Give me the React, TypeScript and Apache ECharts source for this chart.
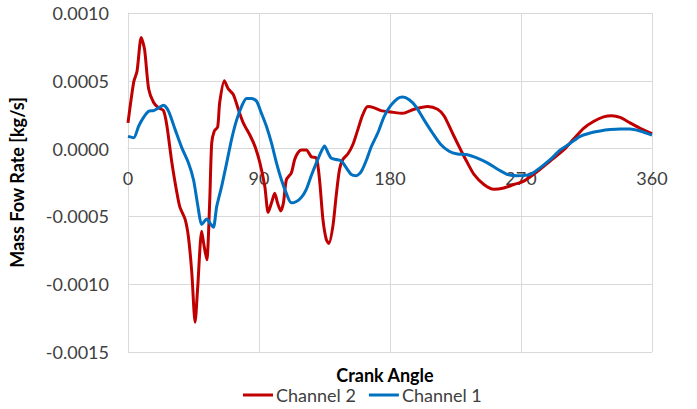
import React, { useEffect, useRef } from "react";
import * as echarts from "echarts";

// Channel 2 (red) – crank angle [deg] and mass flow rate [kg/s]
const ch2Angle = [
  0, 3.9, 6.2, 9.1, 11.4, 14.2, 17.6, 21, 24.4, 26.7, 30.1, 33.5, 35.6, 39.2, 41.5, 43.8, 46.1,
  47.9, 50.6, 52, 54.1, 56.1, 57.5, 59.3, 61.6, 63, 66.2, 68.9, 72.3, 75.8, 79.2, 83.7, 87.1,
  90.5, 94, 96.3, 98.6, 100.8, 102.7, 104.9, 106.8, 108.8, 112.2, 114.5, 116.8, 119.1, 122.5,
  125.9, 129.4, 131.6, 133.9, 136.2, 138, 140.8, 143, 145.3, 147.6, 151, 154.5, 157.9, 161.3,
  164.7, 169.3, 173.8, 180.7, 188.7, 196.6, 205.8, 212.7, 217.2, 222.9, 228.6, 233.2, 237.7,
  244.5, 251.4, 258.2, 265.1, 271.9, 281.1, 290.2, 299.3, 306.1, 313, 319.8, 326.7, 332.4,
  338.1, 344.9, 351.8, 360,
];
const ch2Flow = [
  0.00019, 0.00049, 0.00057, 0.00082, 0.00073, 0.00044, 0.00034, 0.0003, 0.00028, 0.00017,
  -0.0001, -0.00032, -0.00043, -0.00052, -0.00065, -0.00091, -0.00128, -0.00102, -0.00061,
  -0.0007, -0.00082, -0.0004, 0.00004, 0.00013, 0.00016, 0.00034, 0.0005, 0.00044, 0.0004,
  0.00029, 0.00019, 0.0001, 0.00002, -0.0001, -0.00028, -0.00047, -0.0004, -0.00033, -0.0004,
  -0.00046, -0.0004, -0.00023, -0.00018, -0.00008, -0.00003, -0.00001, -0.00001, -0.00006,
  -0.00007, -0.00023, -0.00052, -0.00067, -0.0007, -0.00057, -0.00035, -0.000155, -0.00008,
  -0.00004, 0.00003, 0.00014, 0.00025, 0.00031, 0.0003, 0.00028, 0.00027, 0.00026, 0.00029,
  0.00031, 0.00029, 0.00024, 0.000115, -0.00001, -0.000105, -0.00019, -0.000265, -0.0003,
  -0.00029, -0.000265, -0.00024, -0.00017, -0.00009, -0.00001, 0.00007, 0.00015, 0.0002,
  0.000234, 0.000243, 0.00023, 0.00019, 0.00015, 0.00011,
];

// Channel 1 (blue)
const ch1Angle = [
  0, 3.9, 7.3, 10.7, 14.2, 17.6, 21, 24.4, 27.9, 32.4, 37, 41.5, 45, 48.4, 50.6, 54.1, 57,
  58.7, 60.9, 64.3, 67.8, 71.2, 74.6, 78, 81.4, 84.9, 88.3, 91.7, 95.1, 98.6, 102, 105.4,
  108.8, 112.2, 115.7, 119.1, 122.5, 125.9, 129.4, 132.8, 135, 137.4, 139.6, 143, 146.5,
  149.9, 153.3, 156.7, 160.2, 163.6, 167, 171.6, 176.1, 180.7, 185.3, 188.7, 193.2, 197.8,
  203.5, 209.2, 214.9, 220.6, 226.3, 233.2, 240, 246.9, 253.7, 260.6, 267.4, 276.5, 283.3,
  290.2, 297, 303.9, 310.7, 317.5, 324.4, 331.2, 338.1, 344.9, 351.8, 360,
];
const ch1Flow = [
  0.00009, 0.00008, 0.000165, 0.00023, 0.000275, 0.00028, 0.0003, 0.00032, 0.000275, 0.00014,
  0.000005, -0.000105, -0.00023, -0.00045, -0.00056, -0.00052, -0.00056, -0.00058, -0.00043,
  -0.00028, -0.000105, 0.00007, 0.00021, 0.00031, 0.00037, 0.00037, 0.00035, 0.00026,
  0.000165, 0.00004, -0.000105, -0.00023, -0.00033, -0.0004, -0.00039, -0.00036, -0.0003,
  -0.0002, -0.000105, -0.00002, 0.00002, -0.00003, -0.00007, -0.00008, -0.00009, -0.00014,
  -0.00019, -0.0002, -0.00017, -0.00009, 0.00001, 0.000115, 0.00024, 0.00032, 0.00037,
  0.00038, 0.00036, 0.00031, 0.00021, 0.000115, 0.00003, -0.00002, -0.00004, -0.000045,
  -0.00007, -0.000105, -0.00015, -0.00019, -0.0002, -0.00019, -0.00014, -0.00008, -0.00001,
  0.00004, 0.00009, 0.000115, 0.00013, 0.00014, 0.000145, 0.000145, 0.00013, 0.0001,
];

const xTicks = { min: 0, max: 360, interval: 90 };
const yTicks = { min: -0.0015, max: 0.001, interval: 0.0005 };

const FONT = "Lato, 'Open Sans', sans-serif";
const GRID = "#d9d9d9";
const TEXT = "#404040";

// plot box in pixels
const PLOT = { left: 126, top: 13, right: 652, bottom: 352 };

const pairs = (xs: number[], ys: number[]) => xs.map((x, i) => [x, ys[i]]);

export default function App() {
  const ref = useRef<HTMLDivElement>(null);

  useEffect(() => {
    if (!ref.current) return;
    const chart = echarts.init(ref.current, undefined, { renderer: "svg" });
    // the horizontal axis crosses the vertical one at zero flow
    const zeroY =
      PLOT.top + ((yTicks.max - 0) / (yTicks.max - yTicks.min)) * (PLOT.bottom - PLOT.top);
    chart.setOption({
      animation: false,
      backgroundColor: "#ffffff",
      textStyle: { fontFamily: FONT },
      grid: {
        left: PLOT.left,
        top: PLOT.top,
        right: 697 - PLOT.right,
        bottom: 409 - PLOT.bottom,
        containLabel: false,
      },
      xAxis: {
        type: "value",
        min: xTicks.min,
        max: xTicks.max,
        interval: xTicks.interval,
        position: "bottom",
        offset: -(PLOT.bottom - zeroY),
        axisLine: { show: true, onZero: false, lineStyle: { color: GRID, width: 1 } },
        axisTick: { show: false },
        axisLabel: { color: TEXT, fontSize: 18, margin: 20, fontFamily: FONT },
        splitLine: { show: true, lineStyle: { color: GRID, width: 1 } },
      },
      yAxis: {
        type: "value",
        min: yTicks.min,
        max: yTicks.max,
        interval: yTicks.interval,
        name: "Mass Fow Rate [kg/s]",
        nameLocation: "middle",
        nameGap: 102,
        nameTextStyle: { color: "#000", fontSize: 18, fontWeight: "bold", fontFamily: FONT },
        axisLine: { show: true, onZero: false, lineStyle: { color: GRID, width: 1 } },
        axisTick: { show: false },
        axisLabel: {
          color: TEXT,
          fontSize: 18,
          margin: 19,
          fontFamily: FONT,
          formatter: (v: number) => (Math.abs(v) < 1e-12 ? 0 : v).toFixed(4),
        },
        splitLine: { show: true, lineStyle: { color: GRID, width: 1 } },
      },
      legend: {
        data: ["Channel 2", "Channel 1"],
        bottom: 5,
        left: 238,
        padding: [0, 5, 0, 5],
        icon: "rect",
        itemWidth: 30,
        itemHeight: 3,
        itemGap: 13,
        textStyle: {
          color: TEXT,
          fontSize: 18,
          lineHeight: 18,
          fontFamily: FONT,
          padding: [0, 0, 0, -2],
        },
      },
      graphic: [
        {
          type: "text",
          x: 385,
          y: 375,
          style: {
            text: "Crank Angle",
            fill: "#000",
            font: `bold 18px ${FONT}`,
            textAlign: "center",
            textVerticalAlign: "middle",
          },
        },
      ],
      series: [
        {
          name: "Channel 2",
          type: "line",
          data: pairs(ch2Angle, ch2Flow),
          showSymbol: false,
          smooth: 0.25,
          lineStyle: { color: "#c00000", width: 3 },
          itemStyle: { color: "#c00000" },
        },
        {
          name: "Channel 1",
          type: "line",
          data: pairs(ch1Angle, ch1Flow),
          showSymbol: false,
          smooth: 0.25,
          lineStyle: { color: "#0070c0", width: 3 },
          itemStyle: { color: "#0070c0" },
        },
      ],
    });
    return () => chart.dispose();
  }, []);

  return (
    <div
      ref={ref}
      style={{ position: "fixed", left: 0, top: 0, width: 697, height: 409, background: "#fff" }}
    />
  );
}
